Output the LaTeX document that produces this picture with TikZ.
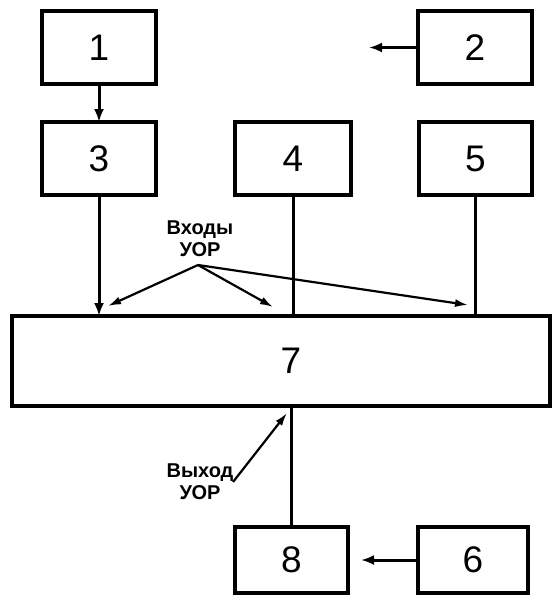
\documentclass[tikz,border=0pt]{standalone}
\usepackage{fontspec}
\setmainfont{Liberation Sans}
\usetikzlibrary{arrows.meta}
\tikzset{
  box/.style={draw, line width=3.2pt, inner sep=0pt, outer sep=0pt, font=\fontsize{37}{37}\selectfont},
  conn/.style={line width=3pt},
  arr/.style={line width=3pt, -{Latex[length=13pt,width=10pt]}},
  lab/.style={font=\bfseries\fontsize{20}{22}\selectfont, align=center, inner sep=0pt},
  ptr/.style={line width=2.2pt, -{Latex[length=13pt,width=8pt]}}
}
\begin{document}
\begin{tikzpicture}[x=1pt,y=-1pt]
\useasboundingbox (0,0) rectangle (554,595);
\node[box, minimum width=114pt, minimum height=73pt] (b1) at (99,47.5) {1};
\node[box, minimum width=114pt, minimum height=73pt] (b2) at (475,47.5) {2};
\node[box, minimum width=114pt, minimum height=73pt] (b3) at (99,158.5) {3};
\node[box, minimum width=116pt, minimum height=73pt] (b4) at (293,158.5) {4};
\node[box, minimum width=113pt, minimum height=73pt] (b5) at (475.5,158.5) {5};
\node[box, minimum width=538pt, minimum height=90pt] (b7) at (281,361) {\hspace*{20pt}7};
\node[box, minimum width=113pt, minimum height=66pt] (b8) at (291.5,560) {8};
\node[box, minimum width=110pt, minimum height=66pt] (b6) at (473,560) {6};
% connectors
\draw[arr] (b1.south) -- (b3.north);
\coordinate (c2) at (369,47.5);
\draw[arr] (b2.west) -- (c2);
\draw[arr] (b3.south) -- (b3.south |- b7.north);
\draw[conn] (b4.south) -- (b4.south |- b7.north);
\draw[conn] (b5.south) -- (b5.south |- b7.north);
\draw[conn] (b7.south -| b8.north) -- (b8.north);
\coordinate (c6) at (361,560);
\draw[arr] (b6.west) -- (c6);
% labels
\node[lab] (inl) at (200,239) {Входы\\УОР};
\coordinate (io) at (198,265);
\coordinate (t1) at (108,306);
\coordinate (t2) at (273,307);
\coordinate (t3) at (468,305);
\draw[ptr] (io) -- (t1);
\draw[ptr] (io) -- (t2);
\draw[ptr] (io) -- (t3);
\node[lab] (outl) at (200,482) {Выход\\УОР};
\coordinate (os) at (233,482);
\coordinate (ot) at (287,413);
\draw[ptr] (os) -- (ot);
\end{tikzpicture}
\end{document}
